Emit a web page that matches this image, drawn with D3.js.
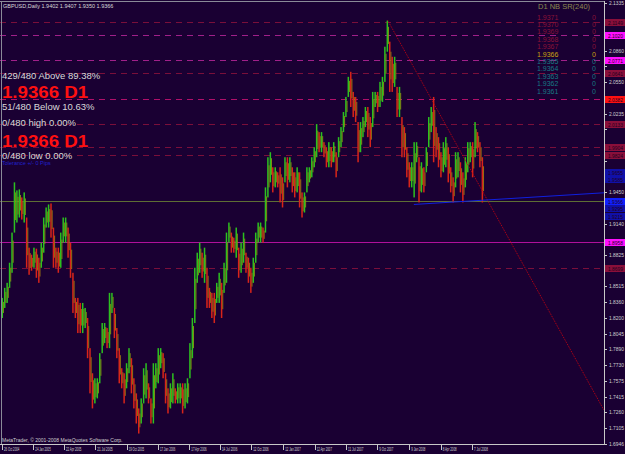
<!DOCTYPE html>
<html>
<head>
<meta charset="utf-8">
<script src="https://cdn.jsdelivr.net/npm/d3@7"></script>
<style>
  body { margin: 0; background: #1a0033; }
  svg { display: block; }
  text { font-family: "Liberation Sans", Arial, sans-serif; }
</style>
</head>
<body>
<svg id="chart"></svg>
<script>
// weekly bars, first week starts Mon 25 Oct 2004
const firstWeek = new Date(2004, 9, 25);
const weekHigh = [
  1.8400, 1.8500, 1.8550, 1.8750, 1.9050, 1.9550, 1.9470, 1.9480, 1.9400, 1.9450,
  1.9200, 1.8900, 1.8830, 1.8900, 1.8890, 1.8800, 1.8950, 1.9200, 1.9300, 1.9330,
  1.9340, 1.9100, 1.8900, 1.8900, 1.9050, 1.9200, 1.9200, 1.9100, 1.8950, 1.8650,
  1.8400, 1.8400, 1.8350, 1.8350, 1.8300, 1.8200, 1.7900, 1.7650, 1.7600, 1.7600,
  1.7850, 1.8150, 1.8150, 1.8100, 1.8450, 1.8450, 1.8300, 1.8100, 1.7900, 1.7700,
  1.7650, 1.7750, 1.7900, 1.7800, 1.7600, 1.7450, 1.7300, 1.7400, 1.7700, 1.7750,
  1.7550, 1.7400, 1.7750, 1.7750, 1.7900, 1.7900, 1.7850, 1.7650, 1.7500, 1.7550,
  1.7650, 1.7500, 1.7550, 1.7550, 1.7550, 1.7550, 1.7600, 1.7950, 1.8200, 1.8700,
  1.8850, 1.8950, 1.8850, 1.8900, 1.8700, 1.8500, 1.8450, 1.8450, 1.8550, 1.8650,
  1.8550, 1.8750, 1.9050, 1.9150, 1.9050, 1.9000, 1.9100, 1.8900, 1.8950, 1.9050,
  1.8850, 1.8800, 1.8700, 1.8800, 1.9050, 1.9150, 1.9150, 1.9100, 1.9500, 1.9800,
  1.9850, 1.9700, 1.9700, 1.9650, 1.9700, 1.9600, 1.9800, 1.9800, 1.9800, 1.9700,
  1.9650, 1.9700, 1.9650, 1.9450, 1.9450, 1.9700, 1.9700, 1.9800, 1.9900, 2.0130,
  2.0050, 2.0050, 1.9950, 1.9900, 1.9950, 1.9900, 1.9950, 1.9850, 2.0000, 2.0100,
  2.0250, 2.0400, 2.0600, 2.0650, 2.0450, 2.0400, 2.0150, 2.0150, 2.0200, 2.0300,
  2.0300, 2.0200, 2.0450, 2.0450, 2.0450, 2.0550, 2.0600, 2.0900, 2.1160, 2.0950,
  2.0800, 2.0800, 2.0500, 2.0500, 2.0200, 2.0100, 1.9900, 1.9750, 1.9750, 1.9950,
  1.9950, 1.9800, 1.9750, 1.9700, 1.9900, 2.0200, 2.0300, 2.0400, 2.0100, 2.0000,
  1.9850, 1.9950, 2.0000, 1.9900, 1.9700, 1.9600, 1.9850, 1.9850, 1.9750, 1.9650,
  1.9800, 1.9950, 1.9950, 1.9950, 2.0150, 2.0050, 1.9950, 1.9800
];
const weekLow = [
  1.8200, 1.8300, 1.8350, 1.8500, 1.8650, 1.9050, 1.9150, 1.9200, 1.9180, 1.9150,
  1.8700, 1.8630, 1.8670, 1.8700, 1.8600, 1.8550, 1.8700, 1.8850, 1.9100, 1.9100,
  1.9000, 1.8700, 1.8700, 1.8650, 1.8700, 1.8950, 1.8950, 1.8800, 1.8600, 1.8250,
  1.8200, 1.8050, 1.8050, 1.8050, 1.8100, 1.7800, 1.7450, 1.7300, 1.7350, 1.7400,
  1.7550, 1.7850, 1.7950, 1.7900, 1.7900, 1.8250, 1.8000, 1.7800, 1.7550, 1.7500,
  1.7350, 1.7500, 1.7650, 1.7450, 1.7300, 1.7150, 1.7050, 1.7150, 1.7350, 1.7400,
  1.7350, 1.7150, 1.7150, 1.7500, 1.7550, 1.7700, 1.7600, 1.7350, 1.7250, 1.7300,
  1.7350, 1.7350, 1.7350, 1.7350, 1.7250, 1.7300, 1.7350, 1.7600, 1.7800, 1.8150,
  1.8550, 1.8650, 1.8600, 1.8550, 1.8300, 1.8300, 1.8200, 1.8150, 1.8350, 1.8350,
  1.8200, 1.8450, 1.8550, 1.8950, 1.8850, 1.8850, 1.8800, 1.8600, 1.8650, 1.8750,
  1.8650, 1.8550, 1.8450, 1.8550, 1.8750, 1.8950, 1.8950, 1.8950, 1.9050, 1.9400,
  1.9550, 1.9450, 1.9500, 1.9500, 1.9350, 1.9300, 1.9550, 1.9500, 1.9550, 1.9450,
  1.9400, 1.9450, 1.9300, 1.9200, 1.9250, 1.9450, 1.9550, 1.9600, 1.9700, 1.9800,
  1.9850, 1.9850, 1.9800, 1.9700, 1.9700, 1.9700, 1.9750, 1.9600, 1.9800, 1.9900,
  2.0050, 2.0200, 2.0400, 2.0300, 2.0200, 2.0150, 1.9750, 1.9850, 2.0000, 2.0100,
  2.0000, 1.9900, 2.0100, 2.0300, 2.0250, 2.0300, 2.0350, 2.0550, 2.0850, 2.0450,
  2.0450, 2.0500, 2.0200, 2.0200, 1.9800, 1.9800, 1.9600, 1.9500, 1.9500, 1.9400,
  1.9750, 1.9350, 1.9450, 1.9450, 1.9650, 1.9900, 2.0050, 1.9750, 1.9800, 1.9700,
  1.9600, 1.9650, 1.9700, 1.9550, 1.9450, 1.9350, 1.9500, 1.9600, 1.9450, 1.9350,
  1.9500, 1.9650, 1.9750, 1.9600, 1.9800, 1.9850, 1.9700, 1.9350
];

// price axis labels (bottom is the visible minimum, top the maximum)
const priceTicks = [1.6946, 1.7105, 1.7260, 1.7415, 1.7575, 1.7730, 1.7890, 1.8045, 1.8200,
  1.8360, 1.8515, 1.8670, 1.8825, 1.8980, 1.9140, 1.9295, 1.9450, 1.9610, 1.9765, 1.9920,
  2.0080, 2.0235, 2.0390, 2.0550, 2.0705, 2.0860, 2.1020, 2.1175, 2.1335];
const dateTicks = ["26 Oct 2004", "24 Jan 2005", "22 Apr 2005", "21 Jul 2005", "19 Oct 2005",
  "17 Jan 2006", "17 Apr 2006", "14 Jul 2006", "12 Oct 2006", "12 Jan 2007", "12 Apr 2007",
  "11 Jul 2007", "9 Oct 2007", "9 Jan 2008", "8 Apr 2008", "7 Jul 2008"];

// support / resistance lines drawn by the indicator
const srPrices = [2.1149, 2.1020, 2.0771, 2.0641, 2.0382, 2.0133, 1.9904, 1.9824, 1.8958, 1.8699];
const srKinds  = ["res", "major", "major", "res", "strong", "res", "res", "res", "solid", "res"];
const blueLabels = [1.9655, 1.9585, 1.9295, 1.9215];
const bidPrice = 1.9366;

// trend line anchors (date, price) and the blue channel line
const trendLine = [[new Date(2007, 10, 8), 2.1161], [new Date(2008, 7, 8), 1.9450]];
const blueLine = [[new Date(2008, 0, 22), 1.9330], [new Date(2008, 5, 11), 1.9360]];

// info text
const infoLines = ["429/480 Above 89.38%", "1.9366 D1", "51/480 Below 10.63%",
  "0/480 high 0.00%", "1.9366 D1", "0/480 low 0.00%", "Tolerance +/- 0 Pips"];
const infoKinds = ["small", "big", "small", "small", "big", "small", "tol"];
const nbLevels = ["1.9371", "1.9370", "1.9369", "1.9368", "1.9367", "1.9366",
  "1.9365", "1.9364", "1.9363", "1.9362", "1.9361"];
const nbCounts = [0, 0, 0, 0, 0, 0, 0, 0, 0, 0, 0];

const W = 625, H = 454;
const plotRight = 604, plotBottom = 444;

const svg = d3.select("#chart").attr("width", W).attr("height", H);
svg.append("rect").attr("width", W).attr("height", H).attr("fill", "#1a0033");

const x = d3.scaleTime()
  .domain([new Date(2004, 9, 26), new Date(2008, 6, 7)])
  .range([2, 472]);
const y = d3.scaleLinear().domain([1.6946, 2.1335]).range([plotBottom, 3]);

const plot = svg.append("g");

// horizontal SR lines
const srStyle = {
  res:    { stroke: "#7a0f3a", dash: "6,5" },
  major:  { stroke: "#a0208a", dash: "6,5" },
  strong: { stroke: "#b0106a", dash: "6,5" },
  solid:  { stroke: "#b0109a", dash: null }
};
plot.selectAll("line.sr")
  .data(srPrices)
  .join("line")
  .attr("class", "sr")
  .attr("x1", 0).attr("x2", plotRight)
  .attr("y1", d => Math.round(y(d)) + 0.5)
  .attr("y2", d => Math.round(y(d)) + 0.5)
  .attr("stroke", (d, i) => srStyle[srKinds[i]].stroke)
  .attr("stroke-dasharray", (d, i) => srStyle[srKinds[i]].dash)
  .attr("stroke-width", 1);

// bid line
plot.append("line")
  .attr("x1", 0).attr("x2", plotRight)
  .attr("y1", Math.round(y(bidPrice)) + 0.5).attr("y2", Math.round(y(bidPrice)) + 0.5)
  .attr("stroke", "#5e6e34");

// weekly bars
const bars = weekHigh.map((h, i) => ({
  d: d3.timeHour.offset(d3.timeDay.offset(firstWeek, 7 * i), 60),
  hi: h, lo: weekLow[i]
}));
bars.forEach((b, i) => {
  const prev = i ? (bars[i - 1].hi + bars[i - 1].lo) / 2 : b.lo;
  b.up = (b.hi + b.lo) / 2 >= prev;
});
plot.append("g")
  .selectAll("rect")
  .data(bars)
  .join("rect")
  .attr("x", d => x(d.d) - 1)
  .attr("width", 1.5)
  .attr("y", d => y(d.hi))
  .attr("height", d => y(d.lo) - y(d.hi))
  .attr("fill", d => d.up ? "#2cc020" : "#d8241a");
plot.append("g")
  .selectAll("line")
  .data(bars)
  .join("line")
  .attr("x1", d => x(d.d) + 0.9).attr("x2", d => x(d.d) + 0.9)
  .attr("y1", d => y(d.hi) + (y(d.lo) - y(d.hi)) * 0.2)
  .attr("y2", d => y(d.hi) + (y(d.lo) - y(d.hi)) * 0.75)
  .attr("stroke", d => d.up ? "#8a9a10" : "#a07a10")
  .attr("stroke-width", 0.9);

// trend line extended to the right edge
const xEnd = x.invert(plotRight);
function extend(p) {
  const t0 = +p[0][0], t1 = +p[1][0];
  const k = (p[1][1] - p[0][1]) / (t1 - t0);
  return [[p[0][0], p[0][1]], [xEnd, p[0][1] + k * (+xEnd - t0)]];
}
const tl = extend(trendLine);
plot.append("line")
  .attr("x1", x(tl[0][0])).attr("y1", y(tl[0][1]))
  .attr("x2", x(tl[1][0])).attr("y2", y(tl[1][1]))
  .attr("stroke", "#c00010").attr("stroke-dasharray", "1,1");
const bl = extend(blueLine);
plot.append("line")
  .attr("x1", x(bl[0][0])).attr("y1", y(bl[0][1]))
  .attr("x2", x(bl[1][0])).attr("y2", y(bl[1][1]))
  .attr("stroke", "#1020e0");

// frame and axes
svg.append("line").attr("x1", 0).attr("x2", plotRight + 0.5)
  .attr("y1", 1.5).attr("y2", 1.5).attr("stroke", "#8a8a98");
svg.append("line").attr("x1", 1.5).attr("x2", 1.5)
  .attr("y1", 1).attr("y2", plotBottom).attr("stroke", "#8a8a98");
svg.append("line").attr("x1", plotRight + 0.5).attr("x2", plotRight + 0.5)
  .attr("y1", 1).attr("y2", plotBottom + 0.5).attr("stroke", "#c8c8c8");
svg.append("line").attr("x1", 0).attr("x2", plotRight + 0.5)
  .attr("y1", plotBottom + 0.5).attr("y2", plotBottom + 0.5).attr("stroke", "#c8c8c8");

// price boxes on the right axis
const boxColor = { res: "#8a0f3a", major: "#ff10ff", strong: "#ff1010", solid: "#ff10ff" };
const boxes = srPrices.map((p, i) => ({ p, fill: boxColor[srKinds[i]] }))
  .concat(blueLabels.map(p => ({ p, fill: "#1010a8" })))
  .concat([{ p: bidPrice, fill: "#1020ff" }]);

// tick labels hidden where a price box sits on top of them
const freeTicks = priceTicks.filter(t =>
  !boxes.some(b => Math.abs(y(b.p) - y(t)) < 7));

const yAxis = svg.append("g");
yAxis.selectAll("line").data(priceTicks).join("line")
  .attr("x1", plotRight).attr("x2", plotRight + 3)
  .attr("y1", d => Math.round(y(d)) + 0.5).attr("y2", d => Math.round(y(d)) + 0.5)
  .attr("stroke", "#c8c8c8");
yAxis.selectAll("text").data(freeTicks).join("text")
  .attr("x", plotRight + 5).attr("y", d => y(d) + 2)
  .attr("fill", "#d0d0d0").attr("font-size", 5)
  .attr("textLength", 15).attr("lengthAdjust", "spacingAndGlyphs")
  .text(d => d.toFixed(4));

const bx = svg.append("g").selectAll("g").data(boxes).join("g")
  .attr("transform", d => `translate(${plotRight + 1},${Math.round(y(d.p)) - 3})`);
bx.append("rect").attr("width", 20).attr("height", 7).attr("fill", d => d.fill);
bx.append("text").attr("x", 3).attr("y", 5.5).attr("font-size", 5)
  .attr("textLength", 15).attr("lengthAdjust", "spacingAndGlyphs")
  .attr("fill", "#200020").text(d => d.p.toFixed(4));

const xAxis = svg.append("g");
const parse = d3.timeParse("%d %b %Y");
xAxis.selectAll("line").data(dateTicks).join("line")
  .attr("x1", d => Math.round(x(parse(d))) + 0.5).attr("x2", d => Math.round(x(parse(d))) + 0.5)
  .attr("y1", plotBottom).attr("y2", plotBottom + 6)
  .attr("stroke", "#c8c8c8");
xAxis.selectAll("text").data(dateTicks).join("text")
  .attr("x", d => x(parse(d)) + 2).attr("y", plotBottom + 7)
  .attr("fill", "#d0d0d0").attr("font-size", 5)
  .attr("textLength", d => d.length * 1.4)
  .attr("lengthAdjust", "spacingAndGlyphs")
  .text(d => d);

// top-left title
svg.append("text").attr("x", 3).attr("y", 7.5).attr("font-size", 5.5).attr("fill", "#d8d8d8")
  .text("GBPUSD,Daily  1.9402 1.9407 1.9350 1.9366");

// info block
const infoY = [78.5, 97.5, 110, 125.5, 146.5, 158.5, 165];
const infoStyle = {
  small: { size: 9.5, fill: "#d8d8d8", weight: "normal", len: null },
  big:   { size: 17, fill: "#ff1010", weight: "bold", len: 86 },
  tol:   { size: 5.5, fill: "#2020d0", weight: "normal", len: null }
};
svg.append("g").selectAll("text").data(infoLines).join("text")
  .attr("x", 2).attr("y", (d, i) => infoY[i])
  .attr("font-size", (d, i) => infoStyle[infoKinds[i]].size)
  .attr("font-weight", (d, i) => infoStyle[infoKinds[i]].weight)
  .attr("fill", (d, i) => infoStyle[infoKinds[i]].fill)
  .attr("textLength", (d, i) => infoStyle[infoKinds[i]].len)
  .attr("lengthAdjust", "spacingAndGlyphs")
  .text(d => d);

// NB SR list at top right
const mono = "'DejaVu Sans Mono', monospace";
svg.append("text").attr("x", 538).attr("y", 9).attr("font-size", 7.5)
  .attr("font-family", mono).attr("fill", "#8a8a50").text("D1 NB SR(240)");
const nbColor = v => v > "1.9366" ? "#8a1238" : (v === "1.9366" ? "#c8a010" : "#167a84");
const nb = svg.append("g").selectAll("g").data(nbLevels).join("g")
  .attr("transform", (d, i) => `translate(0,${19.5 + i * 7.4})`);
nb.append("text").attr("x", 537).attr("font-size", 7).attr("font-family", mono)
  .attr("fill", nbColor).text(d => d);
nb.append("text").attr("x", 592).attr("font-size", 7).attr("font-family", mono)
  .attr("fill", nbColor).text((d, i) => nbCounts[i]);

// copyright
svg.append("text").attr("x", 2).attr("y", 442).attr("font-size", 5)
  .attr("fill", "#d0d0d0").text("MetaTrader, © 2001-2008 MetaQuotes Software Corp.");
</script>
</body>
</html>
